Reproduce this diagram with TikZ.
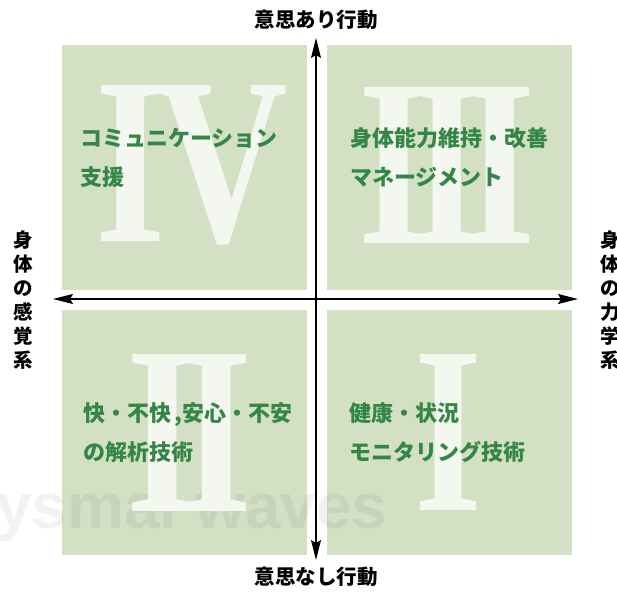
\documentclass[tikz,border=0pt]{standalone}
\usepackage{fontspec}
\setmainfont{Liberation Serif}
\newfontfamily\cjk{Noto Sans CJK JP}
\newfontfamily\wmfont{Liberation Sans}
\usetikzlibrary{arrows.meta}
\definecolor{quad}{HTML}{D3E0C4}
\definecolor{numc}{HTML}{F4F7F0}
\definecolor{txtg}{HTML}{348646}
\begin{document}
\begin{tikzpicture}[x=1pt,y=-1pt,
  quadbox/.style={fill=quad, draw=none, inner sep=0pt, minimum width=245pt, minimum height=245pt, anchor=north west},
  numeral/.style={text=numc, inner sep=0pt, font=\bfseries},
  qtext/.style={text=txtg, inner sep=0pt, anchor=west, align=left, font=\cjk\bfseries\fontsize{22}{39}\selectfont},
  axislabel/.style={inner sep=0pt, font=\cjk\bfseries\fontsize{20.5}{24}\selectfont},
  vlabel/.style={inner sep=0pt, align=center, font=\cjk\bfseries\fontsize{19.5}{24}\selectfont},
  axisline/.style={line width=1.3pt, {Stealth[length=20pt,width=10pt,inset=3pt]}-{Stealth[length=20pt,width=10pt,inset=3pt]}}
]
\useasboundingbox (0,0) rectangle (617,592);
\fill[white] (0,0) rectangle (617,592);
% quadrants
\node[quadbox] (q4) at (62,45) {};
\node[quadbox] (q3) at (327,45) {};
\node[quadbox] (q2) at (62,310) {};
\node[quadbox] (q1) at (327,310) {};
% watermark
\node[anchor=base west, inner sep=0pt, text=black, text opacity=0.05, font=\wmfont\bfseries\fontsize{64}{64}\selectfont] (wm) at (-4,528) {ysmal waves};
% numerals
\node[numeral] (n4) at (192,165) {\resizebox{192pt}{156pt}{I\kern-0.05em V}};
\node[numeral] (n3) at (447.5,165) {\resizebox{177pt}{156pt}{I\kern-0.1em I\kern-0.1em I}};
\node[numeral] (n2) at (190,432.5) {\resizebox{126pt}{157pt}{I\kern-0.1em I}};
\node[numeral] (n1) at (449,432.5) {\resizebox{68pt}{156pt}{I}};
% quadrant texts
\node[qtext] (t4) at (80,157.5) {コミュニケーション\\支援};
\node[qtext] (t3) at (350,157.5) {身体能力維持・改善\\マネージメント};
\node[qtext] (t2) at (83,432.5) {快・不快\,,安心・不安\\の解析技術};
\node[qtext] (t1) at (349,432.5) {健康・状況\\モニタリング技術};
% axes
\coordinate (vt) at (316,38);
\coordinate (vb) at (316,560);
\coordinate (hl) at (53,299);
\coordinate (hr) at (578,299);
\draw[axisline] (vb) -- (vt);
\draw[axisline] (hl) -- (hr);
% axis labels
\node[axislabel] (ltop) at (316,20) {意思あり行動};
\node[axislabel] (lbot) at (316,577) {意思なし行動};
\node[vlabel] (lleft) at (23,300) {身\\体\\の\\感\\覚\\系};
\node[vlabel] (lright) at (610,300) {身\\体\\の\\力\\学\\系};
\end{tikzpicture}
\end{document}
